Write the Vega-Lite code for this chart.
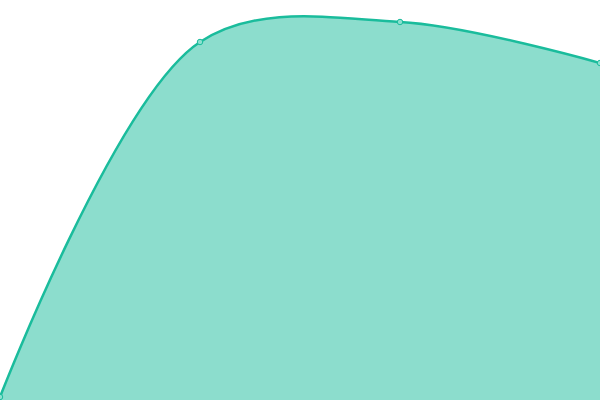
{
  "$schema": "https://vega.github.io/schema/vega-lite/v6.json",
  "width": 600,
  "height": 400,
  "padding": 0,
  "autosize": "none",
  "config": {"view": {"stroke": null}},
  "data": {
    "values": [
      {"step": 0, "value": 0.75},
      {"step": 1, "value": 89.5},
      {"step": 2, "value": 94.5},
      {"step": 3, "value": 84.25}
    ]
  },
  "encoding": {
    "x": {"field": "step", "type": "quantitative", "scale": {"domain": [0, 3], "nice": false}, "axis": null},
    "y": {"field": "value", "type": "quantitative", "scale": {"domain": [0, 100], "nice": false}, "axis": null}
  },
  "layer": [
    {
      "mark": {
        "type": "area",
        "interpolate": "catmull-rom",
        "color": "#1abc9c",
        "fillOpacity": 0.5,
        "line": {"color": "#1abc9c", "strokeWidth": 2.5}
      }
    },
    {
      "mark": {
        "type": "point",
        "filled": true,
        "fill": "#8ce0cf",
        "stroke": "#1abc9c",
        "strokeWidth": 1,
        "opacity": 1,
        "size": 30
      }
    }
  ]
}
